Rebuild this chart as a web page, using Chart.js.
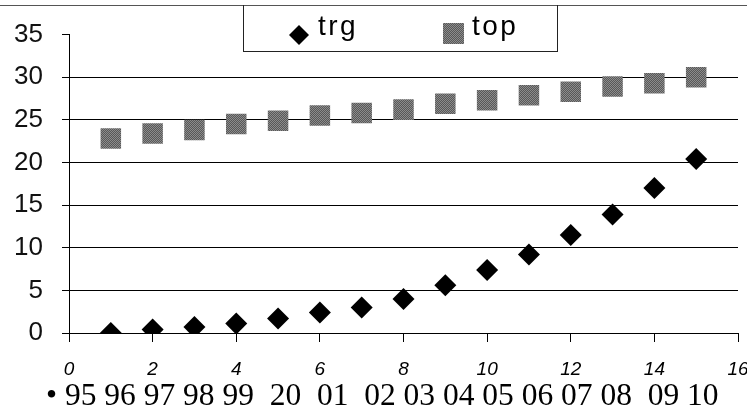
<!DOCTYPE html>
<html>
<head>
<meta charset="utf-8">
<script src="https://cdn.jsdelivr.net/npm/chart.js@4/dist/chart.umd.min.js"></script>
<style>
  html, body { margin: 0; padding: 0; background: #fff; }
  #wrap { position: relative; width: 747px; height: 414px; overflow: hidden; }
  #topline { position: absolute; left: 0; top: 5px; width: 747px; height: 0; border-top: 1px solid #555; }
  #legend { position: absolute; left: 243px; top: 5px; width: 313px; height: 46px; border: 1px solid #222; border-top: none;
            font: 28px "Liberation Sans", Arial, sans-serif; color: #000; letter-spacing: 2.5px; }
  #legend span { position: absolute; top: 5px; }
  #years { position: absolute; left: 46px; top: 377px; white-space: pre; color: #000;
           font: 31.5px "Liberation Serif", "Times New Roman", serif; }
</style>
</head>
<body>
<div id="wrap">
  <canvas id="c" width="747" height="414"></canvas>
  <div id="topline"></div>
  <div id="legend"></div>
  <div id="years"></div>
</div>
<script>
// --- datos ---
const xValues = [1, 2, 3, 4, 5, 6, 7, 8, 9, 10, 11, 12, 13, 14, 15];
const trgValues = [0, 0.4, 0.7, 1.1, 1.7, 2.4, 3.0, 4.0, 5.6, 7.4, 9.2, 11.5, 13.9, 17.0, 20.4];
const topValues = [22.8, 23.4, 23.8, 24.5, 24.9, 25.5, 25.8, 26.2, 26.9, 27.3, 27.9, 28.3, 28.9, 29.3, 30.0];
const seriesNames = ['trg', 'top'];
const yearLabels = ['•', '95', '96', '97', '98', '99', ' 20', ' 01', ' 02', '03', '04', '05', '06', '07', '08', ' 09', '10'];

// trama gris de los cuadrados (como el original escaneado)
function grayPattern() {
    const c = document.createElement('canvas');
    c.width = c.height = 2;
    const g = c.getContext('2d');
    g.fillStyle = '#585858'; g.fillRect(0, 0, 2, 2);
    g.fillStyle = '#8c8c8c'; g.fillRect(0, 0, 1, 1); g.fillRect(1, 1, 1, 1);
    return g.createPattern(c, 'repeat');
}

const ctx = document.getElementById('c').getContext('2d');
const pattern = grayPattern();

new Chart(ctx, {
    type: 'scatter',
    data: {
        datasets: [
            {
                label: seriesNames[0],
                data: xValues.map((x, i) => ({ x, y: trgValues[i] })),
                pointStyle: 'rectRot',
                pointRadius: 11,
                backgroundColor: '#000',
                borderColor: '#000',
                borderWidth: 0
            },
            {
                label: seriesNames[1],
                data: xValues.map((x, i) => ({ x, y: topValues[i] })),
                pointStyle: 'rect',
                pointRadius: 14.5,
                backgroundColor: pattern,
                borderColor: '#555',
                borderWidth: 0
            }
        ]
    },
    options: {
        responsive: false,
        animation: false,
        events: [],
        layout: { autoPadding: false, padding: { top: 33, right: 9, bottom: 0, left: 0 } },
        plugins: { legend: { display: false }, tooltip: { enabled: false } },
        scales: {
            x: {
                type: 'linear', min: 0, max: 16,
                afterFit: s => { s.height = 81; s.paddingLeft = 0; s.paddingRight = 0; },
                border: { display: true, color: '#000', width: 1 },
                grid: { drawOnChartArea: false, tickLength: 9, color: '#000', tickColor: '#000' },
                ticks: { stepSize: 2, padding: 16, color: '#000', maxRotation: 0,
                         font: { family: 'Liberation Sans', size: 19, style: 'italic' } }
            },
            y: {
                min: 0, max: 35,
                afterFit: s => { s.width = 69; },
                border: { display: true, color: '#000', width: 1 },
                grid: {
                    tickLength: 7, tickColor: '#000',
                    color: c => (c.tick && c.tick.value === 35) ? 'rgba(0,0,0,0)' : '#000'
                },
                ticks: { stepSize: 5, padding: 19, color: '#111',
                         font: { family: 'Liberation Sans', size: 26 } }
            }
        }
    }
});

// leyenda en HTML con marco
document.getElementById('legend').innerHTML = `
    <svg style="position:absolute;left:44px;top:19px" width="22" height="22"><polygon points="11,1 21,11 11,21 1,11" fill="#000"/></svg>
    <span style="left:74px">${seriesNames[0]}</span>
    <div style="position:absolute;left:199px;top:18px;width:21px;height:21px;background:repeating-conic-gradient(#585858 0 25%, #8c8c8c 0 50%) 0 0/2px 2px"></div>
    <span style="left:228px">${seriesNames[1]}</span>`;

document.getElementById('years').textContent = yearLabels.join(' ');
</script>
</body>
</html>
